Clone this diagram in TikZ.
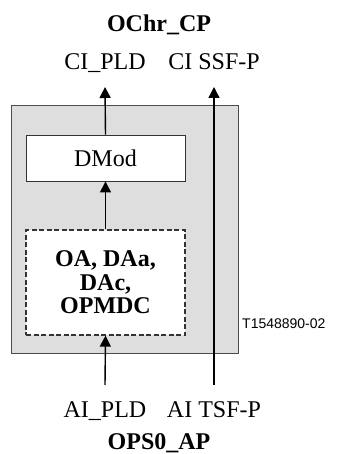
\documentclass[tikz,border=0pt]{standalone}
\usepackage{fontspec}
\setmainfont{Liberation Serif}
\setsansfont{Liberation Sans}
\usepackage{tikz}
\usetikzlibrary{arrows.meta, positioning, calc}
\tikzset{
  fn box/.style={
    rectangle, draw=black!70, fill=black!13, line width=0.9pt,
    minimum width=227pt, minimum height=248pt, inner sep=0pt
  },
  proc box/.style={
    rectangle, draw=black!80, fill=white, line width=0.9pt,
    minimum width=159pt, inner sep=0pt,
    font=\fontsize{24}{23}\selectfont
  },
  proc dashed/.style={
    proc box, dashed, line width=1.2pt, dash pattern=on 5pt off 2.5pt,
    align=center, font=\fontsize{24}{23.5}\selectfont\bfseries
  },
  sig label/.style={
    font=\fontsize{24}{26}\selectfont, inner sep=0pt, anchor=base
  },
  layer label/.style={
    font=\fontsize{24}{26}\selectfont\bfseries, inner sep=0pt, anchor=base
  },
  sig arrow/.style={
    -{Triangle[length=11pt,width=11pt]}, line width=1.4pt, draw=black
  }
}

\begin{document}
\begin{tikzpicture}[x=1pt,y=-1pt]
  \useasboundingbox (0,0) rectangle (339,454);

  \node (fb) [fn box] at (124.5,229) {};
  \node (dmod) [proc box, minimum height=46pt] at (105.5,158) {DMod};
  \node (proc) [proc dashed, minimum height=105pt] at (105.5,282.5)
    {OA, DAa,\\DAc,\\OPMDC};

  \node (ocp) [layer label] at (159,32) {OChr\_CP};
  \node (cipld) [sig label] at (105,70) {CI\_PLD};
  \node (cissf) [sig label] at (214,70) {CI SSF-P};
  \node (aipld) [sig label] at (105,417) {AI\_PLD};
  \node (aitsf) [sig label] at (214,417) {AI TSF-P};
  \node (ops) [layer label] at (159,449) {OPS0\_AP};
  \node (fig) [font=\sffamily\fontsize{14}{16}\selectfont, inner sep=0pt,
    anchor=west] at (242,324) {T1548890-02};

  \coordinate (pldout) at (105,87);
  \coordinate (ssfout) at (214,87);
  \coordinate (pldin) at (105,385);
  \coordinate (tsfin) at (214,385);

  \draw [sig arrow] (dmod.north) -- (pldout);
  \draw [sig arrow] (proc.north) -- (dmod.south);
  \draw [sig arrow] (pldin) -- (proc.south);
  \draw [sig arrow] (tsfin) -- (ssfout);
\end{tikzpicture}
\end{document}
